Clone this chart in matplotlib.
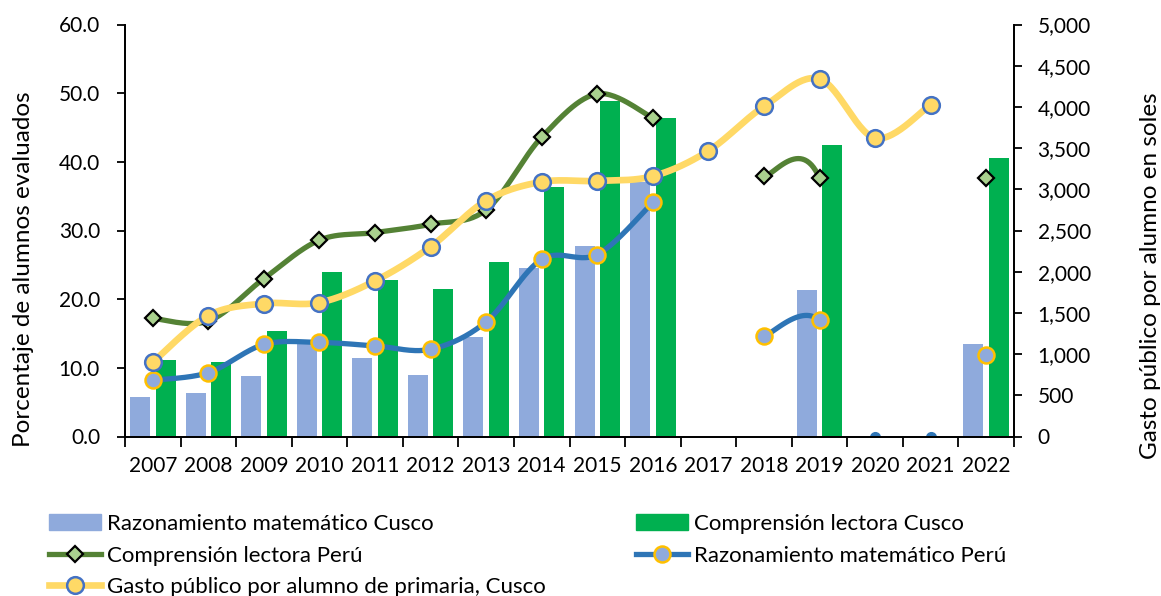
import numpy as np
import matplotlib
matplotlib.use("Agg")
import matplotlib.pyplot as plt
from matplotlib.ticker import FuncFormatter, FixedLocator

plt.rcParams['font.family'] = ['Lato', 'DejaVu Sans']

years = ['2007', '2008', '2009', '2010', '2011', '2012', '2013', '2014',
         '2015', '2016', '2017', '2018', '2019', '2020', '2021', '2022']
nan = np.nan
math_cusco = [5.7, 6.4, 8.8, 13.6, 11.4, 8.9, 14.5, 24.5, 27.7, 37.0,
              nan, nan, 21.3, nan, nan, 13.5]
read_cusco = [11.2, 10.8, 15.3, 23.9, 22.8, 21.5, 25.4, 36.4, 48.8, 46.4,
              nan, nan, 42.4, nan, nan, 40.6]
read_peru = [17.2, 16.8, 23.0, 28.6, 29.7, 30.9, 33.0, 43.6, 49.9, 46.4,
             nan, 37.9, 37.6, nan, nan, 37.7]
math_peru = [8.2, 9.3, 13.4, 13.7, 13.2, 12.7, 16.7, 25.8, 26.5, 34.1,
             nan, 14.6, 16.9, nan, nan, 11.8]
zero_years = ['2020', '2021']   # Perú series reported as 0 (no line drawn)
gasto = [900, 1468, 1614, 1626, 1889, 2303, 2863, 3090, 3102, 3159,
         3467, 4006, 4339, 3622, 4027, nan]

labels = ['Razonamiento matemático Cusco', 'Comprensión lectora Cusco',
          'Comprensión lectora Perú', 'Razonamiento matemático Perú',
          'Gasto público por alumno de primaria, Cusco']

C_MATH_BAR = '#8FAADC'
C_READ_BAR = '#00B050'
C_READ_LINE = '#548235'
C_READ_MK = '#A9D18E'
C_MATH_LINE = '#2E75B6'
C_ORANGE = '#FFC000'
C_GASTO = '#FFD966'
C_GASTO_EDGE = '#4472C4'


def smooth_segments(xs, ys, tang=None, n=30):
    """Excel-like smoothed line (Bezier through points), drawn only
    between consecutive available points; `tang` gives neighbours used
    for tangents."""
    xs = np.asarray(xs, float)
    ys = np.asarray(ys, float)
    tang = ys if tang is None else np.asarray(tang, float)
    segs = []
    m = len(xs)
    for i in range(m - 1):
        if np.isnan(ys[i]) or np.isnan(ys[i + 1]):
            continue
        p1 = np.array([xs[i], ys[i]])
        p2 = np.array([xs[i + 1], ys[i + 1]])
        if i > 0 and not np.isnan(tang[i - 1]):
            p0 = np.array([xs[i - 1], tang[i - 1]])
        else:
            p0 = p1
        if i + 2 < m and not np.isnan(tang[i + 2]):
            p3 = np.array([xs[i + 2], tang[i + 2]])
        else:
            p3 = p2
        c1 = p1 + (p2 - p0) / 6.0
        c2 = p2 - (p3 - p1) / 6.0
        t = np.linspace(0, 1, n)[:, None]
        seg = ((1 - t) ** 3) * p1 + 3 * ((1 - t) ** 2) * t * c1 + \
            3 * (1 - t) * t ** 2 * c2 + t ** 3 * p2
        segs.append(seg)
    runs = []
    for s in segs:
        if runs and np.allclose(runs[-1][-1], s[0]):
            runs[-1] = np.vstack([runs[-1], s[1:]])
        else:
            runs.append(s)
    return runs


W, H = 1161, 596
L, R, T, B = 125, 1014, 24.5, 436.5
fig = plt.figure(figsize=(W / 100, H / 100), dpi=100)
ax = fig.add_axes([L / W, 1 - B / H, (R - L) / W, (B - T) / H])
ax2 = ax.twinx()

x = np.arange(len(years))
zx = [years.index(y) for y in zero_years]

bw = 0.36
off = 0.23
ax.bar(x - off, math_cusco, width=bw, color=C_MATH_BAR, zorder=1)
ax.bar(x + off, read_cusco, width=bw, color=C_READ_BAR, zorder=1)

read_tang = list(read_peru)
math_tang = list(math_peru)
for i in zx:
    read_tang[i] = 0.0
    math_tang[i] = 0.0

for s in smooth_segments(x, read_peru, read_tang):
    ax.plot(s[:, 0], s[:, 1], color=C_READ_LINE, lw=3.8,
            solid_capstyle='round', zorder=3)
ax.plot(x, read_peru, ls='none', marker='D', ms=8, mfc=C_READ_MK,
        mec='black', mew=1.6, zorder=4)

for s in smooth_segments(x, math_peru, math_tang):
    ax.plot(s[:, 0], s[:, 1], color=C_MATH_LINE, lw=3.8,
            solid_capstyle='round', zorder=3)
ax.plot(x, math_peru, ls='none', marker='o', ms=11.5, mfc=C_MATH_BAR,
        mec=C_ORANGE, mew=1.8, zorder=4)
ax.plot(zx, [0] * len(zx), ls='none', marker='o', ms=7, color=C_MATH_LINE,
        zorder=2, clip_on=True)

for s in smooth_segments(x, gasto):
    ax2.plot(s[:, 0], s[:, 1], color=C_GASTO, lw=4.8,
             solid_capstyle='round', zorder=3)
ax2.plot(x, gasto, ls='none', marker='o', ms=12, mfc=C_GASTO,
         mec=C_GASTO_EDGE, mew=1.8, zorder=4)

ax.set_xlim(-0.5, len(years) - 0.5)
ax.set_ylim(0, 60)
ax2.set_ylim(0, 5000)
ax.set_yticks(np.arange(0, 61, 10))
ax.yaxis.set_major_formatter(FuncFormatter(lambda v, p: f'{v:.1f}'))
ax2.set_yticks(np.arange(0, 5001, 500))
ax2.yaxis.set_major_formatter(FuncFormatter(lambda v, p: f'{int(v):,}'))

ax.set_xticks(x)
ax.set_xticklabels(years)
ax.tick_params(axis='x', which='major', length=0, pad=14)
ax.xaxis.set_minor_locator(FixedLocator(np.arange(-0.5, len(years), 1.0)))
ax.tick_params(axis='x', which='minor', length=7, width=1.3, direction='out')
ax.tick_params(axis='y', length=6, width=1.3, direction='out', pad=12)
ax2.tick_params(axis='y', length=6, width=1.3, direction='out', pad=11)
for a in (ax, ax2):
    a.tick_params(labelsize=15)
    a.spines['top'].set_visible(False)
    for s in ('left', 'right', 'bottom'):
        a.spines[s].set_linewidth(1.3)

ax.set_ylabel('Porcentaje de alumnos evaluados', fontsize=17.5)
ax2.set_ylabel('Gasto público por alumno en soles', fontsize=17.5)
ax.yaxis.set_label_coords((34 - L) / (R - L), (B - 269) / (B - T))
ax2.yaxis.set_label_coords((1140 - L) / (R - L), (B - 276) / (B - T))

h_math_bar = plt.Rectangle((0, 0), 1, 1, color=C_MATH_BAR)
h_read_bar = plt.Rectangle((0, 0), 1, 1, color=C_READ_BAR)
h_read_line = plt.Line2D([], [], color=C_READ_LINE, lw=3.8, marker='D', ms=8,
                         mfc=C_READ_MK, mec='black', mew=1.6)
h_math_line = plt.Line2D([], [], color=C_MATH_LINE, lw=3.8, marker='o',
                         ms=11.5, mfc=C_MATH_BAR, mec=C_ORANGE, mew=1.8)
h_gasto = plt.Line2D([], [], color=C_GASTO, lw=4.8, marker='o', ms=12,
                     mfc=C_GASTO, mec=C_GASTO_EDGE, mew=1.8)

leg_kw = dict(loc='upper left', frameon=False, fontsize=16,
              handlelength=2.35, handleheight=0.75, handletextpad=0.28,
              labelspacing=0.52, borderaxespad=0, borderpad=0)
leg1 = fig.legend([h_math_bar, h_read_line, h_gasto],
                  [labels[0], labels[2], labels[4]],
                  bbox_to_anchor=(49 / W, 1 - 514 / H), **leg_kw)
leg2 = fig.legend([h_read_bar, h_math_line], [labels[1], labels[3]],
                  bbox_to_anchor=(636 / W, 1 - 514 / H), **leg_kw)

fig.savefig('out.png', dpi=100)
